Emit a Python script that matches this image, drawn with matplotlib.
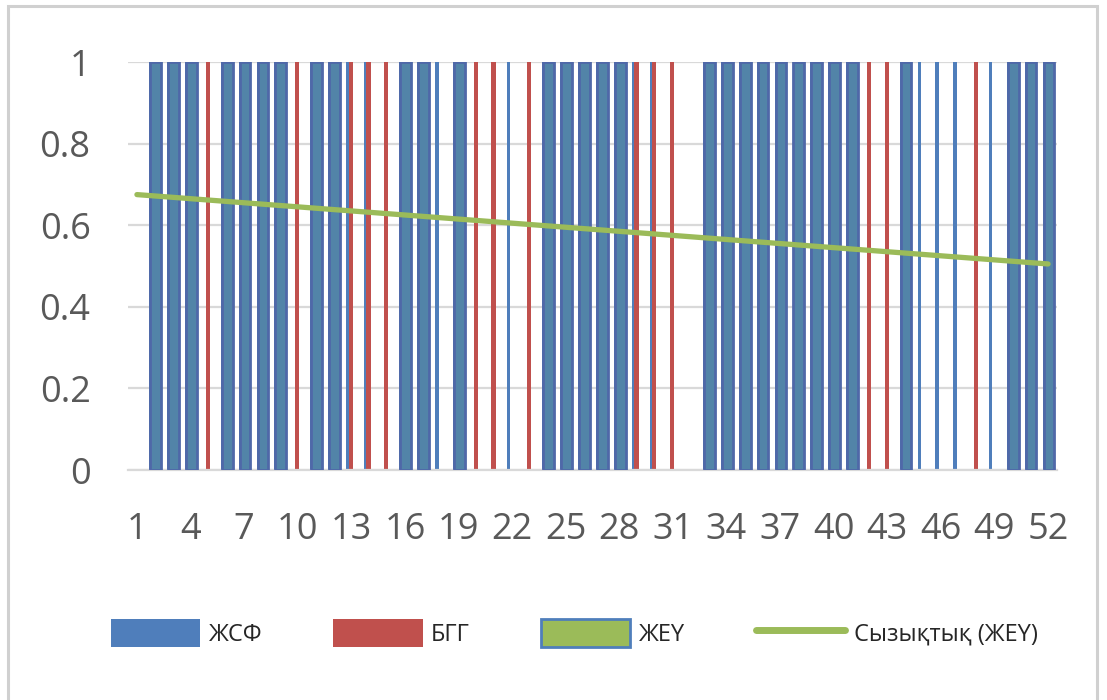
import matplotlib
matplotlib.use("Agg")
import matplotlib.pyplot as plt
from matplotlib.patches import Patch, Rectangle
from matplotlib.lines import Line2D
import numpy as np

# ---------------- data ----------------
categories = list(range(1, 53))
# ЖСФ (thin blue), БГГ (thin red), ЖЕҮ (wide bar)
zhsf = [0, 1, 1, 1, 0, 1, 1, 1, 1, 0, 1, 1, 1, 1, 0, 1, 1, 1, 1, 0,
        0, 1, 0, 1, 1, 1, 1, 1, 1, 1, 0, 0, 1, 1, 1, 1, 1, 1, 1, 1,
        1, 0, 0, 1, 1, 1, 1, 0, 1, 1, 1, 1]
bgg = [0, 0, 0, 0, 1, 0, 0, 0, 0, 1, 0, 0, 1, 1, 1, 0, 0, 0, 0, 1,
       1, 0, 1, 0, 0, 0, 0, 0, 1, 1, 1, 0, 0, 0, 0, 0, 0, 0, 0, 0,
       0, 1, 1, 0, 0, 0, 0, 1, 0, 0, 0, 0]
zheu = [0, 1, 1, 1, 0, 1, 1, 1, 1, 0, 1, 1, 0, 0, 0, 1, 1, 0, 1, 0,
        0, 0, 0, 1, 1, 1, 1, 1, 0, 0, 0, 0, 1, 1, 1, 1, 1, 1, 1, 1,
        1, 0, 0, 1, 0, 0, 0, 0, 0, 1, 1, 1]
trend_x = [1, 52]
trend_y = [0.675, 0.505]
x_ticks = list(range(1, 53, 3))
y_ticks = [0, 0.2, 0.4, 0.6, 0.8, 1]
y_tick_labels = ["0", "0.2", "0.4", "0.6", "0.8", "1"]
series_names = ["ЖСФ", "БГГ", "ЖЕҮ", "Сызықтық (ЖЕҮ)"]

# ---------------- style ----------------
BLUE = "#4F7EBB"
RED = "#C0504D"
GREEN = "#9BBB59"
WIDE_FACE = "#5284A8"
WIDE_EDGE = "#4F68A8"
GRID = "#D9D9D9"
TXT = "#595959"

W, H = 1107, 700
fig = plt.figure(figsize=(W / 100, H / 100), dpi=100)
fig.patch.set_facecolor("white")

# outer light frame
fig.add_artist(Rectangle((8 / W, -0.01), (1097 - 8) / W, (H - 6) / H + 0.01,
                         transform=fig.transFigure, fill=False,
                         edgecolor="#D0D0D0", linewidth=2.2))

ax = fig.add_axes([128 / W, (H - 470) / H, (1057 - 128) / W, (470 - 62) / H])
x = np.array(categories, dtype=float)
v1 = np.array(zhsf, dtype=float)
v2 = np.array(bgg, dtype=float)
v3 = np.array(zheu, dtype=float)

m1, m2, m3 = v1 > 0, v2 > 0, v3 > 0
ax.bar(x[m1] - 0.21, v1[m1], width=0.19, color=BLUE, zorder=2, linewidth=0)
ax.bar(x[m2] - 0.04, v2[m2], width=0.23, color=RED, zorder=2, linewidth=0)
ax.bar(x[m3] + 0.05, v3[m3], width=0.60, color=WIDE_FACE, edgecolor=WIDE_EDGE,
       linewidth=2.0, zorder=3)
ax.plot(trend_x, trend_y, color=GREEN, linewidth=3.8, solid_capstyle="round",
        zorder=4)

ax.set_xlim(0.5, 52.5)
ax.set_ylim(0, 1)
ax.set_yticks(y_ticks)
ax.set_yticklabels(y_tick_labels)
ax.set_xticks(x_ticks)
ax.set_xticklabels([str(t) for t in x_ticks])
ax.tick_params(axis="both", length=0, colors=TXT)
ax.tick_params(axis="y", pad=27)
ax.tick_params(axis="x", pad=30)
for lab in ax.get_yticklabels():
    lab.set_fontfamily(["Open Sans", "DejaVu Sans"])
    lab.set_fontsize(26)
for lab in ax.get_xticklabels():
    lab.set_fontfamily(["Open Sans", "DejaVu Sans"])
    lab.set_fontsize(26)

ax.grid(axis="y", color=GRID, linewidth=1.6, zorder=0)
ax.set_axisbelow(True)
for s in ["top", "right", "left"]:
    ax.spines[s].set_visible(False)
ax.spines["bottom"].set_color(GRID)
ax.spines["bottom"].set_linewidth(1.6)

handles = [
    Patch(facecolor=BLUE, edgecolor="none"),
    Patch(facecolor=RED, edgecolor="none"),
    Patch(facecolor=GREEN, edgecolor=BLUE, linewidth=2),
    Line2D([0], [0], color=GREEN, linewidth=5, solid_capstyle="round"),
]
leg = fig.legend(handles, series_names, loc="center",
                 bbox_to_anchor=(574 / W, (H - 633) / H), ncol=4,
                 frameon=False, handlelength=3.8, handleheight=1.45,
                 handletextpad=0.35, columnspacing=3.0,
                 prop={"family": ["Open Sans", "DejaVu Sans"], "size": 17})
for t in leg.get_texts():
    t.set_color("#262626")

fig.savefig("out.png", dpi=100, facecolor="white")
